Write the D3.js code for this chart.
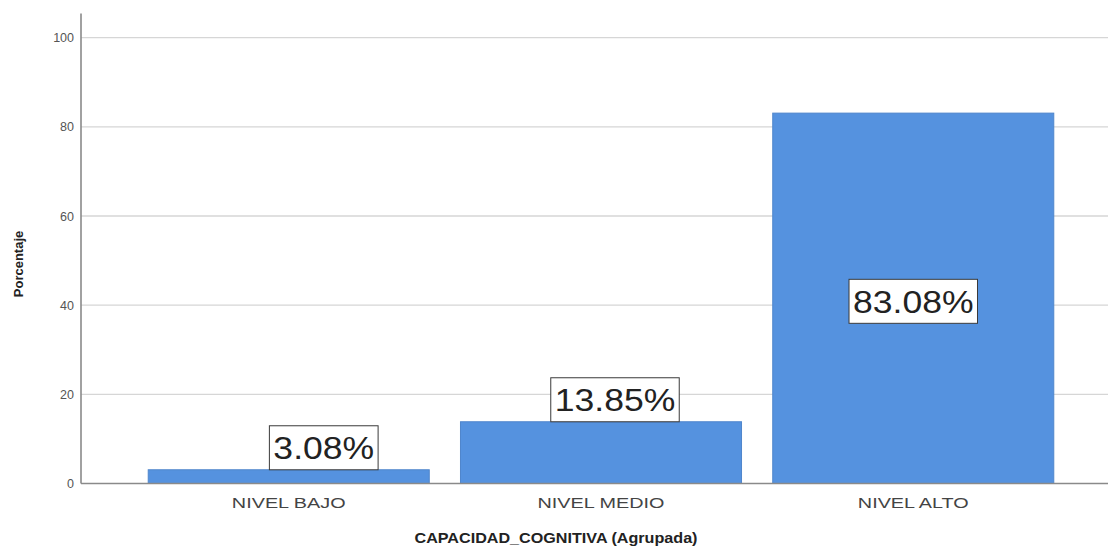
<!DOCTYPE html>
<html>
<head>
<meta charset="utf-8">
<script src="https://cdn.jsdelivr.net/npm/d3@7"></script>
<style>
  html, body { margin: 0; padding: 0; background: #ffffff; }
  svg { display: block; font-family: Arial, "Liberation Sans", sans-serif; }
</style>
</head>
<body>
<svg id="chart" width="1111" height="550"></svg>
<script>
// Categories and percentages for the grouped cognitive-capacity variable
const categories = ["NIVEL BAJO", "NIVEL MEDIO", "NIVEL ALTO"];
const percentages = [3.08, 13.85, 83.08];
const valueLabels = ["3.08%", "13.85%", "83.08%"];
const yTicks = [0, 20, 40, 60, 80, 100];

// Layout of the value labels: above the short bars, inside the tall one
const labelMode = ["above", "above", "inside"];
const labelShift = [35, 14, 0];

const svg = d3.select("#chart");
const plotLeft = 81, plotRight = 1108;

const x = d3.scaleBand()
  .domain(categories)
  .range([117, 1085])
  .paddingInner(0.1)
  .paddingOuter(0.1);

const y = d3.scaleLinear()
  .domain([0, 105])
  .range([483.5, 15.4]);

// Horizontal gridlines
svg.append("g")
  .selectAll("line")
  .data(yTicks.filter(d => d > 0))
  .join("line")
  .attr("x1", plotLeft)
  .attr("x2", plotRight)
  .attr("y1", d => y(d))
  .attr("y2", d => y(d))
  .attr("stroke", "#d6d6d6")
  .attr("stroke-width", 1.3);

// Y axis with tick labels
const yAxis = svg.append("g")
  .attr("transform", `translate(${plotLeft},0)`)
  .call(d3.axisLeft(y).tickValues(yTicks).tickSize(0).tickPadding(7));
yAxis.select(".domain").remove();
yAxis.selectAll("text")
  .attr("font-size", 12.5)
  .attr("fill", "#555")
  .attr("font-family", "Arial, 'Liberation Sans', sans-serif");

// Bars
svg.append("g")
  .selectAll("rect")
  .data(categories)
  .join("rect")
  .attr("x", d => x(d))
  .attr("width", x.bandwidth())
  .attr("y", (d, i) => y(percentages[i]))
  .attr("height", (d, i) => y(0) - y(percentages[i]))
  .attr("fill", "#5592df")
  .attr("stroke", "#4f86cc")
  .attr("stroke-width", 1);

// Axis lines
svg.append("line")
  .attr("x1", plotLeft).attr("x2", plotLeft)
  .attr("y1", y(105) - 2).attr("y2", y(0))
  .attr("stroke", "#8a8a8a").attr("stroke-width", 1.6);
svg.append("line")
  .attr("x1", plotLeft).attr("x2", plotRight)
  .attr("y1", y(0)).attr("y2", y(0))
  .attr("stroke", "#8a8a8a").attr("stroke-width", 1.6);

// Category labels
const catText = svg.append("g")
  .selectAll("text")
  .data(categories)
  .join("text")
  .attr("x", d => x(d) + x.bandwidth() / 2)
  .attr("y", 508)
  .attr("text-anchor", "middle")
  .attr("font-size", 15)
  .attr("fill", "#444")
  .text(d => d);
catText.each(function () {
  const w = this.getComputedTextLength();
  d3.select(this).attr("textLength", w * 1.32).attr("lengthAdjust", "spacingAndGlyphs");
});

// Value labels in white boxes
const labels = svg.append("g")
  .selectAll("g")
  .data(categories)
  .join("g");

labels.each(function (d, i) {
  const g = d3.select(this);
  const cx = x(d) + x.bandwidth() / 2 + labelShift[i];
  const boxH = 44;
  const cy = labelMode[i] === "inside"
    ? (y(percentages[i]) + y(0)) / 2 + 3
    : y(percentages[i]) - boxH / 2;
  const t = g.append("text")
    .attr("x", cx)
    .attr("y", cy + 11.5)
    .attr("text-anchor", "middle")
    .attr("font-size", 32)
    .attr("fill", "#222")
    .text(valueLabels[i]);
  const w = t.node().getComputedTextLength() * 1.11;
  t.attr("textLength", w).attr("lengthAdjust", "spacingAndGlyphs");
  g.insert("rect", "text")
    .attr("x", cx - w / 2 - 4)
    .attr("y", cy - boxH / 2)
    .attr("width", w + 8)
    .attr("height", boxH)
    .attr("fill", "#ffffff")
    .attr("stroke", "#3a3a3a")
    .attr("stroke-width", 1);
});

// Axis titles
const xTitle = svg.append("text")
  .attr("x", 556)
  .attr("y", 543)
  .attr("text-anchor", "middle")
  .attr("font-size", 14)
  .attr("font-weight", "bold")
  .attr("fill", "#222")
  .text("CAPACIDAD_COGNITIVA (Agrupada)");
xTitle.attr("textLength", 283).attr("lengthAdjust", "spacingAndGlyphs");

svg.append("text")
  .attr("transform", "translate(23,264) rotate(-90)")
  .attr("text-anchor", "middle")
  .attr("font-size", 13)
  .attr("font-weight", "bold")
  .attr("fill", "#222")
  .text("Porcentaje");
</script>
</body>
</html>
